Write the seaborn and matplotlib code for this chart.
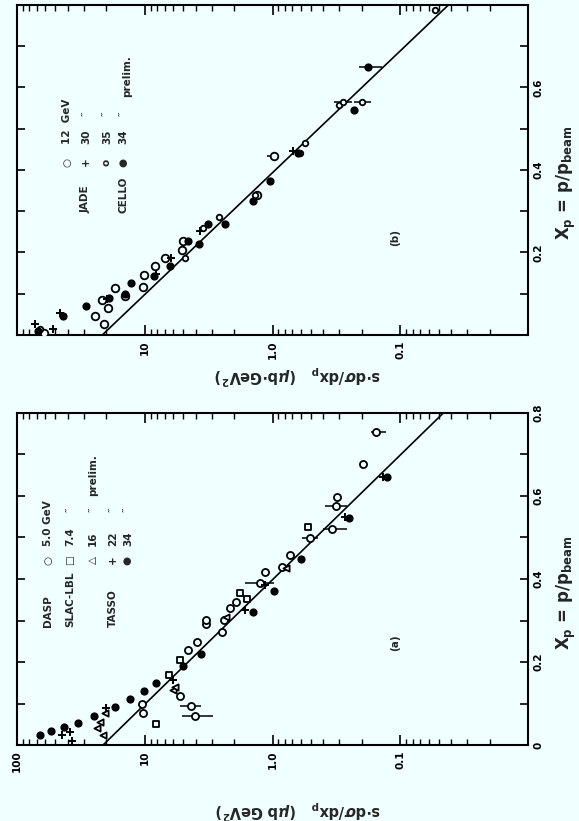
import numpy as np
import pandas as pd
import matplotlib
matplotlib.use("Agg")
import matplotlib.pyplot as plt
import matplotlib.ticker as mticker
import seaborn as sns

sns.set_theme(style="ticks")
BG = "#f0ffff"
plt.rcParams["font.family"] = ["DejaVu Sans"]
plt.rcParams["font.weight"] = "bold"

# ---------------- Panel (a) data : value = s*dsigma/dxp, xp = p/p_beam ----------------
a_dasp_xp = [0.076, 0.099, 0.095, 0.070, 0.118, 0.229, 0.249, 0.292, 0.302, 0.273, 0.301,
             0.329, 0.345, 0.390, 0.418, 0.430, 0.458, 0.498, 0.520, 0.576, 0.597, 0.676, 0.755]
a_dasp_v = [10.3, 10.6, 4.38, 4.04, 5.3, 4.55, 3.9, 3.3, 3.3, 2.5, 2.4,
            2.16, 1.93, 1.25, 1.15, 0.85, 0.73, 0.51, 0.34, 0.32, 0.31, 0.195, 0.155]
a_err_xp = [0.095, 0.070, 0.390, 0.498, 0.520, 0.576, 0.755]
a_err_v = [4.38, 4.04, 1.25, 0.51, 0.34, 0.32, 0.155]
a_err_lo = [3.6, 2.9, 0.98, 0.44, 0.26, 0.26, 0.13]
a_err_hi = [5.3, 5.1, 1.63, 0.59, 0.40, 0.39, 0.17]
a_slac_xp = [0.051, 0.169, 0.205, 0.353, 0.367, 0.526]
a_slac_v = [8.1, 6.5, 5.3, 1.59, 1.8, 0.53]
a_t16_xp = [0.040, 0.056, 0.024, 0.077, 0.133, 0.140, 0.309, 0.426]
a_t16_v = [23.7, 22.4, 21.1, 20.5, 6.0, 5.8, 2.3, 0.78]
a_t22_xp = [0.024, 0.010, 0.032, 0.088, 0.157, 0.325, 0.386, 0.550, 0.645]
a_t22_v = [44.7, 37.3, 38.5, 20.1, 6.0, 1.63, 1.15, 0.27, 0.137]
a_t34_xp = [0.024, 0.034, 0.043, 0.054, 0.070, 0.092, 0.111, 0.130, 0.149, 0.190,
            0.219, 0.321, 0.372, 0.447, 0.548, 0.645]
a_t34_v = [66, 54.5, 42.7, 33.6, 25, 17.1, 13.0, 10.1, 8.1, 5.0,
           3.65, 1.43, 0.98, 0.60, 0.25, 0.126]
a_line_xp = [0.0, 0.8]
a_line_v = [21.2, 0.046]

# ---------------- Panel (b) data ----------------
b_j12_xp = [0.006, 0.046, 0.027, 0.086, 0.066, 0.114, 0.094, 0.117, 0.145, 0.167,
            0.186, 0.207, 0.228, 0.340, 0.433]
b_j12_v = [61, 24.5, 20.9, 21.7, 19.3, 17.1, 14.3, 10.3, 10.2, 8.3,
           6.9, 5.1, 5.0, 1.33, 0.98]
b_j30_xp = [0.026, 0.015, 0.054, 0.087, 0.148, 0.187, 0.252, 0.445]
b_j30_v = [72, 52, 46, 19.9, 8.1, 6.2, 3.7, 0.69]
b_j35_xp = [0.015, 0.186, 0.260, 0.285, 0.340, 0.440, 0.466, 0.558, 0.565, 0.566, 0.789]
b_j35_v = [66, 4.8, 3.5, 2.6, 1.37, 0.61, 0.56, 0.30, 0.28, 0.20, 0.053]
b_err_xp = [0.565, 0.566, 0.649, 0.433]
b_err_v = [0.28, 0.20, 0.18, 0.98]
b_err_lo = [0.24, 0.17, 0.14, 0.90]
b_err_hi = [0.33, 0.23, 0.21, 1.10]
b_cello_xp = [0.010, 0.046, 0.070, 0.090, 0.127, 0.099, 0.143, 0.167, 0.228, 0.220,
              0.270, 0.270, 0.324, 0.373, 0.440, 0.546, 0.649]
b_cello_v = [68, 43.5, 28.8, 18.9, 12.7, 14.3, 8.5, 6.3, 4.55, 3.75,
             3.2, 2.37, 1.42, 1.04, 0.63, 0.23, 0.18]
b_line_xp = [0.0, 0.8]
b_line_v = [21.5, 0.042]

# tick labels
a_val_labels = ["100", "10", "1.0", "0.1", ""]
b_val_labels = ["", "10", "1.0", "0.1", ""]
a_xp_labels = ["0", "0.2", "0.4", "0.6", "0.8"]
b_xp_labels = ["", "0.2", "0.4", "0.6", ""]
val_ticks = [100, 10, 1, 0.1, 0.01]
xp_ticks = [0, 0.2, 0.4, 0.6, 0.8]

fig = plt.figure(figsize=(5.79, 8.21), dpi=100, facecolor=BG)
ax_b = fig.add_axes([17 / 579, 1 - 335 / 821, 511 / 579, 330 / 821])
ax_a = fig.add_axes([17 / 579, 1 - 745 / 821, 511 / 579, 332 / 821])

FS = 7.5


def scat(ax, v, xp, marker, filled, size=24, lw=1.0):
    df = pd.DataFrame({"v": v, "xp": xp})
    if marker == "+":
        sns.scatterplot(data=df, x="v", y="xp", ax=ax, marker="+", color="black",
                        s=size * 1.3, linewidth=1.4, legend=False, zorder=4)
    elif filled:
        sns.scatterplot(data=df, x="v", y="xp", ax=ax, marker=marker, color="black",
                        edgecolor="black", s=size, linewidth=lw, legend=False, zorder=4)
    else:
        sns.scatterplot(data=df, x="v", y="xp", ax=ax, marker=marker, facecolor=BG,
                        edgecolor="black", s=size, linewidth=lw * 1.3, legend=False, zorder=4)


def errs(ax, v, xp, lo, hi):
    v = np.asarray(v); lo = np.asarray(lo); hi = np.asarray(hi)
    ax.errorbar(v, xp, xerr=[v - lo, hi - v], fmt="none", ecolor="black",
                elinewidth=1.1, capsize=0, zorder=3)


def style(ax, val_labels, xp_labels):
    ax.set_facecolor(BG)
    ax.set_xscale("log")
    ax.set_xlim(100, 0.01)
    ax.set_ylim(0, 0.8)
    ax.set_xticks(val_ticks)
    ax.xaxis.set_minor_locator(mticker.LogLocator(base=10, subs=np.arange(2, 10), numticks=20))
    ax.xaxis.set_minor_formatter(mticker.NullFormatter())
    ax.set_xticklabels(val_labels, rotation=90, fontsize=FS, fontweight="bold")
    ax.set_yticks(xp_ticks)
    ax.set_yticks(np.arange(0.1, 0.8, 0.2), minor=True)
    ax.set_yticklabels(xp_labels, rotation=90, fontsize=FS, fontweight="bold", va="center")
    ax.tick_params(axis="x", which="both", direction="in", top=True, bottom=True, pad=4, colors="black")
    ax.tick_params(axis="x", which="major", length=7, width=1.2)
    ax.tick_params(axis="x", which="minor", length=4, width=1.0)
    ax.tick_params(axis="y", which="both", direction="in", left=True, right=True,
                   labelleft=False, labelright=True, length=6, width=1.2, pad=4, colors="black")
    for s in ax.spines.values():
        s.set_linewidth(1.5)
        s.set_color("black")
        s.set_visible(True)
    ax.set_xlabel("")
    ax.set_ylabel("")
    ax.grid(False)


YLAB_FS = 10.5
XLAB_FS = 12

# ---------------- Panel (a) ----------------
sns.lineplot(x=a_line_v, y=a_line_xp, ax=ax_a, sort=False, estimator=None, color="black", lw=1.2)
errs(ax_a, a_err_v, a_err_xp, a_err_lo, a_err_hi)
scat(ax_a, a_dasp_v, a_dasp_xp, "o", False, size=26)
scat(ax_a, a_slac_v, a_slac_xp, "s", False, size=22)
scat(ax_a, a_t16_v, a_t16_xp, "<", False, size=20)
scat(ax_a, a_t22_v, a_t22_xp, "+", True, size=28)
scat(ax_a, a_t34_v, a_t34_xp, "o", True, size=24)
style(ax_a, a_val_labels, a_xp_labels)

kw = dict(transform=ax_a.transAxes, rotation=90, rotation_mode="anchor",
          fontsize=FS, fontweight="bold", va="center")
for fx, name in [(0.061, "DASP"), (0.104, "SLAC-LBL"), (0.188, "TASSO")]:
    ax_a.text(fx, 0.355, name, ha="left", **kw)
for fx, sym in [(0.061, "○"), (0.104, "□"), (0.149, "△"), (0.188, "+"), (0.217, "●")]:
    ax_a.text(fx, 0.557, sym, ha="center", **kw)
for fx, num in [(0.061, "5.0 GeV"), (0.104, "7.4"), (0.149, "16"), (0.188, "22"), (0.217, "34")]:
    ax_a.text(fx, 0.60, num, ha="left", **kw)
for fx, d in [(0.104, "\u2033"), (0.149, "\u2033"), (0.188, "\u2033"), (0.217, "\u2033")]:
    ax_a.text(fx, 0.71, d, ha="center", **kw)
ax_a.text(0.149, 0.75, "prelim.", ha="left", **kw)
ax_a.text(0.74, 0.307, "(a)", ha="center", **kw)
ax_a.text(0.55, -0.195, r"s$\cdot$d$\sigma$/dx$_\mathregular{p}$   ($\mu$b GeV$^\mathregular{2}$)",
          transform=ax_a.transAxes, rotation=180, ha="center", va="center",
          fontsize=YLAB_FS, fontweight="bold")
ax_a.text(1.076, 0.46, r"X$_\mathregular{p}$ = p/p$_\mathregular{beam}$", transform=ax_a.transAxes,
          rotation=90, ha="center", va="center", fontsize=XLAB_FS, fontweight="bold")

# ---------------- Panel (b) ----------------
sns.lineplot(x=b_line_v, y=b_line_xp, ax=ax_b, sort=False, estimator=None, color="black", lw=1.2)
errs(ax_b, b_err_v, b_err_xp, b_err_lo, b_err_hi)
scat(ax_b, b_j12_v, b_j12_xp, "o", False, size=30)
scat(ax_b, b_j30_v, b_j30_xp, "+", True, size=28)
scat(ax_b, b_j35_v, b_j35_xp, "o", False, size=16)
scat(ax_b, b_cello_v, b_cello_xp, "o", True, size=24)
style(ax_b, b_val_labels, b_xp_labels)

kw = dict(transform=ax_b.transAxes, rotation=90, rotation_mode="anchor",
          fontsize=FS, fontweight="bold", va="center")
for fx, name in [(0.135, "JADE"), (0.209, "CELLO")]:
    ax_b.text(fx, 0.37, name, ha="left", **kw)
for fx, sym in [(0.098, "○"), (0.135, "+"), (0.176, "o"), (0.209, "●")]:
    ax_b.text(fx, 0.524, sym, ha="center", **kw)
for fx, num in [(0.098, "12  GeV"), (0.135, "30"), (0.176, "35"), (0.209, "34")]:
    ax_b.text(fx, 0.58, num, ha="left", **kw)
for fx, d in [(0.135, "\u2033"), (0.176, "\u2033"), (0.209, "\u2033")]:
    ax_b.text(fx, 0.67, d, ha="center", **kw)
ax_b.text(0.215, 0.72, "prelim.", ha="left", **kw)
ax_b.text(0.74, 0.294, "(b)", ha="center", **kw)
ax_b.text(0.55, -0.121, r"s$\cdot$d$\sigma$/dx$_\mathregular{p}$   ($\mu$b$\cdot$GeV$^\mathregular{2}$)",
          transform=ax_b.transAxes, rotation=180, ha="center", va="center",
          fontsize=YLAB_FS, fontweight="bold")
ax_b.text(1.076, 0.46, r"X$_\mathregular{p}$ = p/p$_\mathregular{beam}$", transform=ax_b.transAxes,
          rotation=90, ha="center", va="center", fontsize=XLAB_FS, fontweight="bold")

fig.savefig("out.png", dpi=100, facecolor=BG)
